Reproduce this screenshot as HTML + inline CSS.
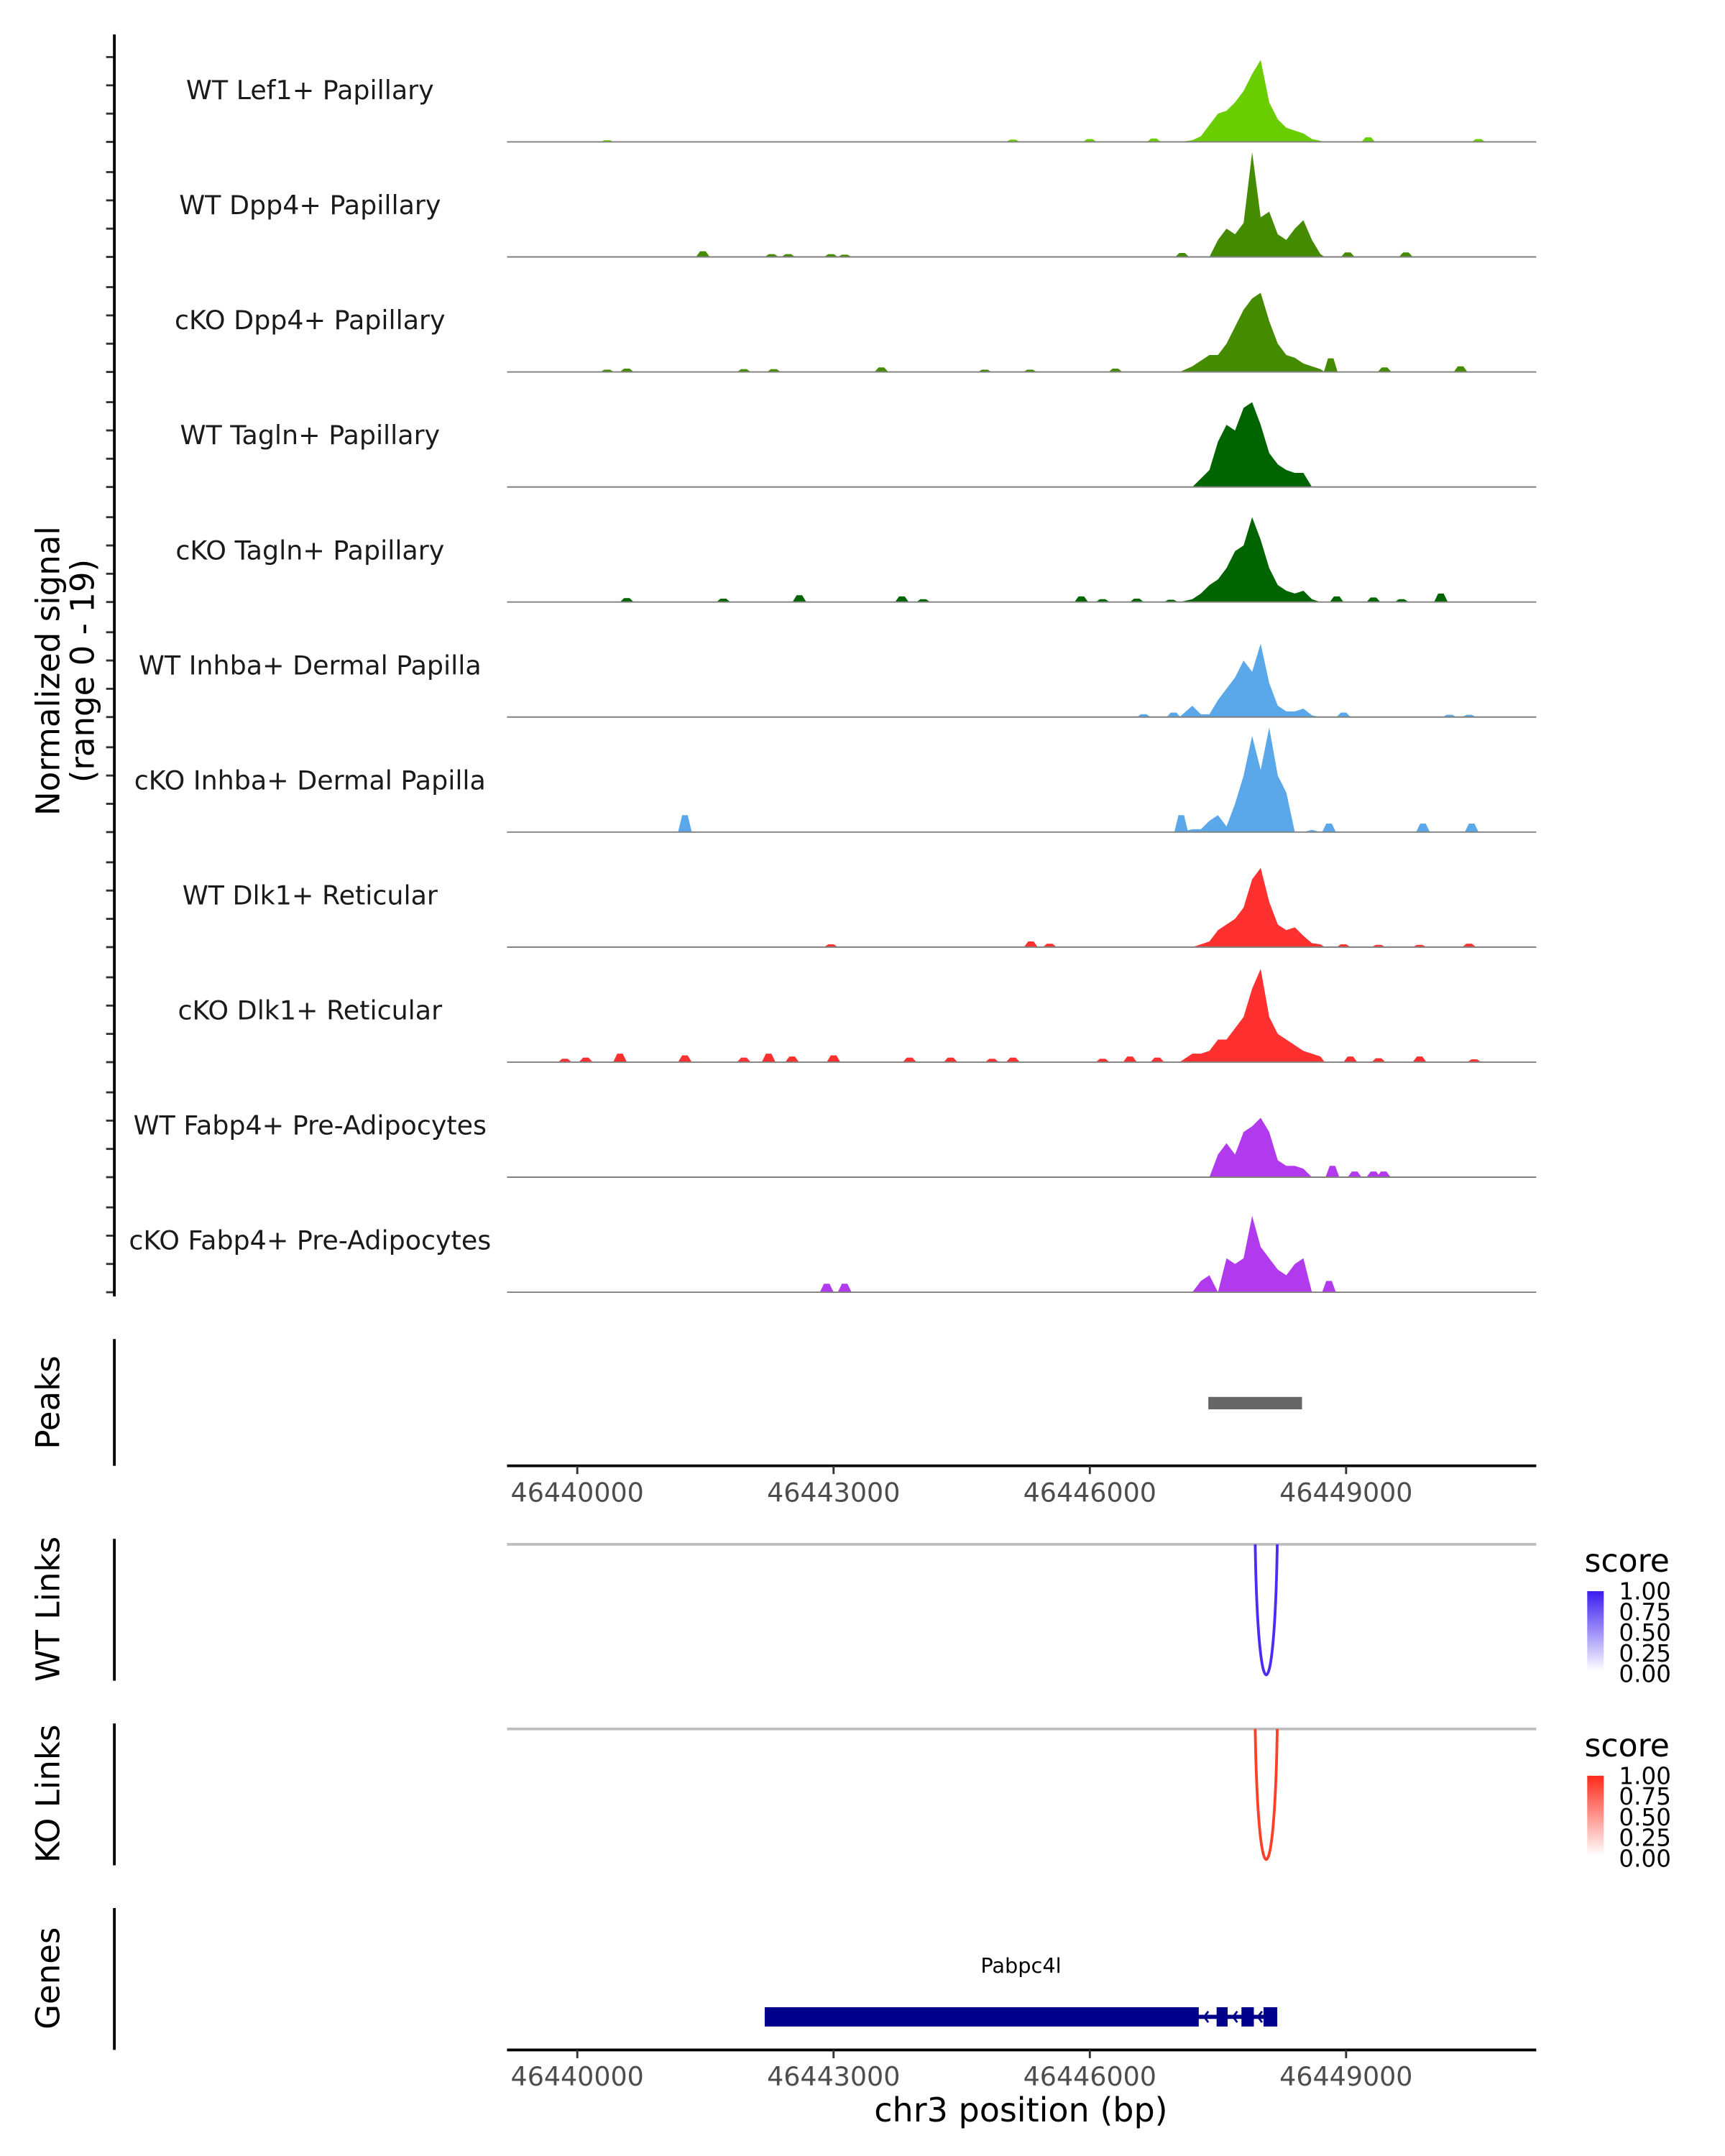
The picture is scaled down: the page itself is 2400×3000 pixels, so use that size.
<!DOCTYPE html>
<html><head><meta charset="utf-8"><style>
html,body{margin:0;padding:0;background:#fff}
svg{display:block;font-family:"DejaVu Sans","Liberation Sans",sans-serif}
</style></head><body>
<svg id="chart" width="2400" height="3000" viewBox="0 0 1252 1565" xmlns="http://www.w3.org/2000/svg">
<g id="signal"></g>
<line x1="83" y1="25" x2="83" y2="941" stroke="#000" stroke-width="2"/>
<text transform="translate(43,487) rotate(-90)" text-anchor="middle" font-size="23.5" fill="#000">Normalized signal</text>
<text transform="translate(68,487) rotate(-90)" text-anchor="middle" font-size="23.5" fill="#000">(range 0 - 19)</text>

<line x1="83" y1="972" x2="83" y2="1064" stroke="#000" stroke-width="2"/>
<text transform="translate(43,1018) rotate(-90)" text-anchor="middle" font-size="23.5">Peaks</text>
<g id="peaks"></g>
<g id="xaxis1"></g>

<line x1="83" y1="1117" x2="83" y2="1220" stroke="#000" stroke-width="2"/>
<text transform="translate(43,1168) rotate(-90)" text-anchor="middle" font-size="23.5">WT Links</text>
<line x1="368" y1="1121" x2="1115" y2="1121" stroke="#bebebe" stroke-width="2"/>
<g id="wtlinks"></g>

<line x1="83" y1="1251" x2="83" y2="1354" stroke="#000" stroke-width="2"/>
<text transform="translate(43,1302) rotate(-90)" text-anchor="middle" font-size="23.5">KO Links</text>
<line x1="368" y1="1255" x2="1115" y2="1255" stroke="#bebebe" stroke-width="2"/>
<g id="kolinks"></g>

<defs>
<linearGradient id="gb" x1="0" y1="1" x2="0" y2="0"><stop offset="0" stop-color="#ffffff"/><stop offset="1" stop-color="#3a1cf0"/></linearGradient>
<linearGradient id="gr" x1="0" y1="1" x2="0" y2="0"><stop offset="0" stop-color="#ffffff"/><stop offset="1" stop-color="#ff2a1a"/></linearGradient>
</defs>
<g>
<text x="1150" y="1141" font-size="23">score</text>
<rect x="1152" y="1155" width="12" height="58" fill="url(#gb)"/>
<g font-size="17" fill="#000"><text x="1175" y="1161">1.00</text><text x="1175" y="1176">0.75</text><text x="1175" y="1191">0.50</text><text x="1175" y="1206">0.25</text><text x="1175" y="1221">0.00</text></g>
</g>
<g>
<text x="1150" y="1275" font-size="23">score</text>
<rect x="1152" y="1289" width="12" height="58" fill="url(#gr)"/>
<g font-size="17" fill="#000"><text x="1175" y="1295">1.00</text><text x="1175" y="1310">0.75</text><text x="1175" y="1325">0.50</text><text x="1175" y="1340">0.25</text><text x="1175" y="1355">0.00</text></g>
</g>

<line x1="83" y1="1385" x2="83" y2="1488" stroke="#000" stroke-width="2"/>
<text transform="translate(43,1436) rotate(-90)" text-anchor="middle" font-size="23.5">Genes</text>
<g id="genes"></g>
<g id="xaxis2"></g>
<text x="741" y="1540" text-anchor="middle" font-size="24">chr3 position (bp)</text>
</svg>
<script>
const trackNames = ["WT Lef1+ Papillary","WT Dpp4+ Papillary","cKO Dpp4+ Papillary","WT Tagln+ Papillary","cKO Tagln+ Papillary","WT Inhba+ Dermal Papilla","cKO Inhba+ Dermal Papilla","WT Dlk1+ Reticular","cKO Dlk1+ Reticular","WT Fabp4+ Pre-Adipocytes","cKO Fabp4+ Pre-Adipocytes"];
const trackColors = ["#6acd00","#458b00","#458b00","#006400","#006400","#5aa8ea","#5aa8ea","#ff3030","#ff3030","#b23aee","#b23aee"];
const binPositions = [46447200,46447300,46447400,46447500,46447600,46447700,46447800,46447900,46448000,46448100,46448200,46448300,46448400,46448500,46448600,46448700];
const sig0 = [0.3,1,3,5,5.5,7,9,12,14.5,7,4,2.5,2,1.5,0.5,0.2];
const sig1 = [0,0,0,3,5,4,6,18.5,7,8,4,3,5,6.5,3,0.5];
const sig2 = [1,2,3,3,5,8,11,13,14,9,5,3,2.5,1.5,1,0.5];
const sig3 = [0,1.5,3,8,11,10,14,15,11,6,4,3,2.5,2.5,0,0];
const sig4 = [0.5,1.5,3,4,6,9,10,15,11,6,3,2,1.5,2,0.5,0];
const sig5 = [2,0.5,0.5,3,5,7,10,8,13,6,2,1,1,1.5,0.3,0];
const sig6 = [0.5,0.5,2,3,1,5,10,17,11,18.5,10,7,0,0,0.4,0];
const sig7 = [0,0.5,1,3,4,5,7,12,14,8,4,3,3.5,2,0.7,0.5];
const sig8 = [1.5,1.5,2,4,4,6,8,13,16.5,8,5,4,3,2,1.5,1];
const sig9 = [0,0,0,4,6,4,8,9,10.5,8,3,2,2,1.5,0,0];
const sig10 = [0,2,3,0,6,5,6,13.5,8,6,4,3,5,6,0,0];
const minor0 = [[46446000,0.5],[46445100,0.4],[46449260,0.8],[46450550,0.5],[46440350,0.3],[46446750,0.6]];
const minor1 = [[46447080,0.7],[46441470,1],[46442275,0.5],[46442470,0.5],[46442970,0.5],[46443130,0.4],[46449020,0.8],[46449700,0.8]];
const minor2 = [[46448820,2.4],[46450340,1],[46449450,0.8],[46440350,0.4],[46441950,0.5],[46443560,0.8],[46444770,0.4],[46446300,0.6],[46440580,0.6],[46442300,0.5],[46445300,0.4]];
const minor3 = [];
const minor4 = [[46440580,0.7],[46441710,0.6],[46442600,1.2],[46443800,1],[46444050,0.5],[46445900,1],[46446150,0.5],[46446550,0.6],[46446950,0.4],[46448890,1],[46449320,0.8],[46449650,0.5],[46450110,1.5]];
const minor5 = [[46446630,0.5],[46446980,0.8],[46448970,0.8],[46450210,0.4],[46450440,0.4]];
const minor6 = [[46441260,3],[46447070,3],[46449900,1.5],[46450470,1.5],[46448800,1.5]];
const minor7 = [[46442970,0.5],[46445310,1],[46445530,0.6],[46448970,0.5],[46449380,0.4],[46449860,0.4],[46450440,0.6]];
const minor8 = [[46439855,0.6],[46440100,0.8],[46440500,1.5],[46441260,1.2],[46441950,0.8],[46442240,1.5],[46442515,1],[46443000,1.2],[46443890,0.8],[46444370,0.8],[46444855,0.6],[46445100,0.8],[46446150,0.6],[46446470,1],[46446790,0.8],[46449050,1],[46449380,0.7],[46449860,1],[46450500,0.5]];
const minor9 = [[46448840,2],[46449100,1],[46449320,1],[46449440,1]];
const minor10 = [[46442920,1.5],[46443130,1.5],[46448800,2]];
const yTicks = [0,5,10,15];
const xTicks = [46440000,46443000,46446000,46449000];
const peakRanges = [[46447387,46448484]];
const wtLinks = [[46447936,46448194,1]];
const koLinks = [[46447936,46448194,1]];
const geneName = "Pabpc4l";
const geneRange = [46442194,46448194];
const geneThick = [46442194,46447275];
const geneExons = [[46447484,46447613],[46447775,46447920],[46448033,46448194]];

const sigs=[sig0,sig1,sig2,sig3,sig4,sig5,sig6,sig7,sig8,sig9,sig10];
const minors=[minor0,minor1,minor2,minor3,minor4,minor5,minor6,minor7,minor8,minor9,minor10];
const NS="http://www.w3.org/2000/svg";
const X=p=>419+(p-46440000)*186/3000;
const YMAX=19, TH=78;
function mk(tag,attrs,parent){const e=document.createElementNS(NS,tag);for(const k in attrs)e.setAttribute(k,attrs[k]);parent.appendChild(e);return e;}
const sg=document.getElementById('signal');
for(let i=0;i<11;i++){
  const base=103+i*83.5;
  const Y=v=>base-v/YMAX*TH;
  const g=mk('g',{},sg);
  
  
  const t=mk('text',{x:225,y:base-31,'text-anchor':'middle','font-size':19,fill:'#1a1a1a'},g);
  t.textContent=trackNames[i];
  
  
  yTicks.forEach(v=>{const tk=mk('line',{x1:77,x2:83,y1:Y(v),y2:Y(v),stroke:'#333','stroke-width':1.5},g);
    
    });
  let d='M'+X(46447050)+','+base;
  binPositions.forEach((p,j)=>{d+=' L'+X(p)+','+Y(sigs[i][j]);});
  d+=' L'+X(46448750)+','+base+' Z';
  const a=mk('path',{d:d,fill:trackColors[i]},g);
  
  
  minors[i].forEach(m=>{const x=X(m[0]);const pp=mk('path',{d:`M${x-5},${base} L${x-2},${Y(m[1])} L${x+2},${Y(m[1])} L${x+5},${base} Z`,fill:trackColors[i]},g);
    
    });
  const bl=mk('line',{x1:368,x2:1115,y1:base,y2:base,stroke:'#808080','stroke-width':1},g);
  
  
}
const pk=document.getElementById('peaks');
peakRanges.forEach(r=>{const e=mk('rect',{x:X(r[0]),y:1014,width:X(r[1])-X(r[0]),height:9,fill:'#666'},pk);
  
  });
function xaxis(id,y){const g=document.getElementById(id);
  mk('line',{x1:368,x2:1115,y1:y,y2:y,stroke:'#000','stroke-width':2},g);
  xTicks.forEach(p=>{const l=mk('line',{x1:X(p),x2:X(p),y1:y,y2:y+6,stroke:'#333','stroke-width':1.5},g);
    
    
    const t=mk('text',{x:X(p),y:y+26,'text-anchor':'middle','font-size':19,fill:'#4d4d4d'},g);
    t.textContent=p;
    
    });}
xaxis('xaxis1',1064);xaxis('xaxis2',1488);
function links(id,arr,top,bottom,col){const g=document.getElementById(id);
  arr.forEach(l=>{const x1=X(l[0]),x2=X(l[1]);const depth=(bottom-top)*l[2];
    const e=mk('path',{d:`M${x1},${top} C${x1+2},${top+depth*1.33} ${x2-2},${top+depth*1.33} ${x2},${top}`,fill:'none',stroke:col,'stroke-width':2},g);
    
    });}
links('wtlinks',wtLinks,1121,1216,'#4a2cf5');
links('kolinks',koLinks,1255,1350,'#ff4028');
const gg=document.getElementById('genes');
const gl=mk('text',{x:(X(geneRange[0])+X(geneRange[1]))/2,y:1432,'text-anchor':'middle','font-size':15},gg);
gl.textContent=geneName;


const gline=mk('line',{x1:X(geneRange[0]),x2:X(geneRange[1]),y1:1464,y2:1464,stroke:'#00008b','stroke-width':3},gg);


const gt=mk('rect',{x:X(geneThick[0]),y:1457,width:X(geneThick[1])-X(geneThick[0]),height:14,fill:'#00008b'},gg);


geneExons.forEach(e=>{const r=mk('rect',{x:X(e[0]),y:1457,width:X(e[1])-X(e[0]),height:14,fill:'#00008b'},gg);
  
  });
[874,895,913].forEach(x=>{const a=mk('path',{d:`M${x+3},1460 L${x},1464 L${x+3},1468`,fill:'none',stroke:'#00008b','stroke-width':1.5},gg);
  
  });
</script>
</body></html>
